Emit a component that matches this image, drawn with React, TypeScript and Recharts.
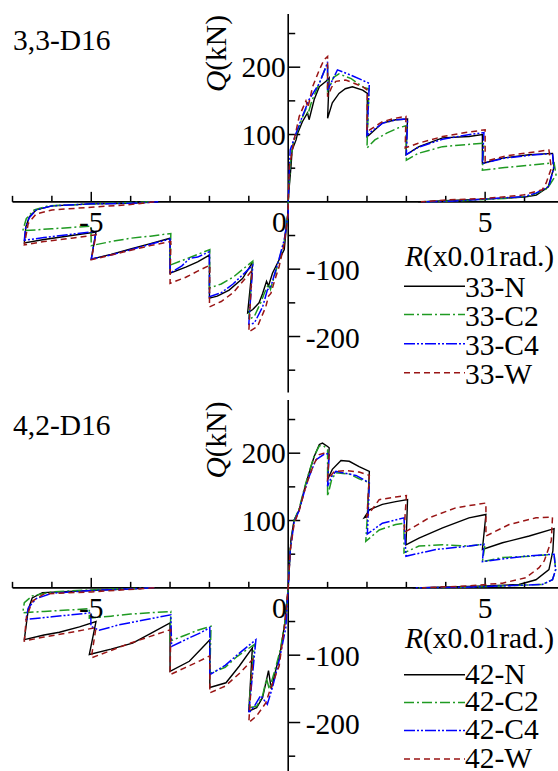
import React from 'react';
import { LineChart, Line, XAxis, YAxis, ReferenceLine, ReferenceDot, Legend, Customized } from 'recharts';

// ---------- data: [R (x0.01 rad), Q (kN)] ----------
const n33 = [[-3.3,0],[-4.0,-2],[-5.0,-3],[-6.0,-6],[-6.4,-12],[-6.57,-22],[-6.66,-37],[-6.7,-61],[-6.2,-56],[-5.5,-50],[-4.88,-45],[-5.0,-85],[-4.5,-78],[-4.0,-70],[-3.5,-62],[-3.0,-54],[-3.0,-106],[-2.6,-97],[-2.3,-89],[-2.0,-79],[-2.0,-143],[-1.8,-140],[-1.5,-131],[-1.16,-114],[-0.9,-89],[-1.03,-165],[-0.9,-160],[-0.74,-150],[-0.65,-136],[-0.55,-118],[-0.5,-125],[-0.4,-106],[-0.23,-86],[-0.1,-71],[-0.05,-40],[0,-12],[0,0],[0.02,18],[0.07,52],[0.1,77],[0.2,92],[0.24,102],[0.36,119],[0.49,132],[0.53,122],[0.66,152],[0.79,171],[0.96,179],[1.04,184],[1.0,124],[1.12,147],[1.29,161],[1.45,168],[1.63,171],[1.89,166],[2.01,161],[2.0,97],[2.05,99],[2.39,117],[2.73,122],[3.03,123],[2.99,70],[3.32,82],[3.92,95],[4.59,97],[4.93,100],[4.93,57],[5.44,65],[6.12,70],[6.71,72],[6.75,52],[6.6,22],[6.3,10],[6.0,7],[5.0,4],[4.1,2],[3.3,0]];
const c2_33 = [[-3.5,0],[-5.0,-3],[-6.1,-6],[-6.45,-12],[-6.65,-25],[-6.74,-43],[-6.0,-40],[-5.5,-38],[-5.01,-36],[-5.0,-65],[-4.5,-59],[-4.0,-54],[-3.5,-51],[-2.98,-47],[-3.0,-94],[-2.6,-85],[-2.3,-78],[-1.99,-71],[-2.0,-128],[-1.7,-122],[-1.4,-112],[-1.15,-100],[-0.9,-88],[-1.0,-175],[-0.86,-170],[-0.7,-150],[-0.6,-135],[-0.5,-122],[-0.45,-130],[-0.35,-110],[-0.23,-86],[-0.1,-58],[0,-15],[0,0],[0.03,30],[0.06,60],[0.12,85],[0.2,100],[0.36,125],[0.45,138],[0.5,130],[0.6,150],[0.79,176],[0.92,195],[1.0,205],[1.0,165],[1.05,170],[1.15,185],[1.29,190],[1.6,183],[1.91,170],[2.05,168],[2.0,80],[2.2,92],[2.5,102],[2.8,110],[2.99,113],[3.0,62],[3.3,72],[3.92,82],[4.5,85],[4.97,87],[4.93,47],[5.5,51],[6.2,55],[6.75,58],[6.8,40],[6.58,20],[6.16,9],[5.5,5],[4.5,2],[3.5,0]];
const c4_33 = [[-3.3,0],[-4.0,-2],[-5.0,-3],[-6.0,-6],[-6.4,-12],[-6.58,-24],[-6.67,-40],[-6.7,-57],[-6.2,-53],[-5.5,-48],[-4.88,-44],[-5.0,-85],[-4.5,-79],[-4.0,-71],[-3.5,-63],[-3.0,-55],[-3.0,-106],[-2.7,-95],[-2.5,-84],[-2.3,-82],[-2.0,-74],[-2.0,-141],[-1.7,-135],[-1.4,-122],[-1.15,-108],[-0.9,-94],[-1.0,-182],[-0.86,-180],[-0.65,-156],[-0.53,-131],[-0.43,-124],[-0.35,-108],[-0.23,-84],[-0.1,-56],[0,-19],[0,0],[0.02,30],[0.05,77],[0.2,102],[0.36,127],[0.45,140],[0.53,152],[0.79,176],[0.96,201],[1.0,208],[1.0,166],[1.1,178],[1.25,196],[1.6,188],[2.06,176],[2.0,99],[2.1,104],[2.4,117],[2.75,122],[3.03,123],[3.0,70],[3.3,81],[3.92,93],[4.5,99],[4.97,103],[4.93,57],[5.5,65],[6.1,69],[6.71,72],[6.74,50],[6.62,23],[6.29,13],[6.0,8],[5.0,4],[4.1,1],[3.4,0]];
const w33 = [[-3.4,0],[-4.0,-4],[-5.0,-8],[-6.0,-12],[-6.4,-18],[-6.6,-32],[-6.7,-64],[-6.2,-59],[-5.5,-54],[-4.88,-49],[-5.0,-86],[-4.5,-79],[-4.0,-72],[-3.5,-65],[-2.98,-59],[-3.0,-121],[-2.6,-112],[-2.3,-103],[-1.99,-94],[-2.0,-156],[-1.7,-148],[-1.4,-135],[-1.15,-118],[-0.92,-102],[-1.0,-193],[-0.78,-185],[-0.57,-156],[-0.5,-140],[-0.44,-136],[-0.35,-118],[-0.23,-96],[-0.1,-62],[0,-15],[0,0],[0.03,52],[0.15,92],[0.28,127],[0.45,150],[0.5,140],[0.62,171],[0.79,196],[0.91,211],[1.0,216],[1.0,156],[1.1,170],[1.21,179],[1.46,181],[1.89,171],[2.01,166],[2.0,104],[2.1,108],[2.39,119],[2.7,124],[2.99,127],[2.97,80],[3.3,87],[3.92,97],[4.5,103],[5.0,107],[5.0,60],[5.5,68],[6.1,73],[6.62,77],[6.68,50],[6.55,28],[6.45,18],[5.95,10],[5.0,5],[4.08,3],[3.37,0]];

const n42 = [[-3.4,0],[-5.0,-4],[-6.24,-7],[-6.5,-15],[-6.6,-32],[-6.7,-77],[-6.2,-70],[-5.81,-66],[-5.3,-58],[-4.88,-50],[-5.05,-99],[-4.5,-91],[-3.95,-82],[-3.5,-68],[-3.0,-52],[-3.0,-124],[-2.51,-109],[-2.2,-90],[-1.99,-77],[-1.99,-148],[-1.58,-141],[-1.24,-116],[-0.91,-89],[-1.0,-183],[-0.8,-178],[-0.65,-163],[-0.5,-123],[-0.43,-150],[-0.35,-130],[-0.2,-95],[-0.08,-50],[0,0],[0.07,72],[0.15,101],[0.28,116],[0.41,146],[0.53,171],[0.66,195],[0.79,213],[0.87,215],[1.0,210],[1.04,208],[1.0,161],[1.12,176],[1.34,189],[1.55,188],[1.8,180],[2.06,173],[2.01,106],[1.93,104],[2.06,116],[2.39,124],[2.73,128],[3.03,131],[2.99,64],[3.32,74],[3.92,89],[4.59,104],[5.02,109],[4.93,57],[5.44,67],[6.12,77],[6.75,88],[6.72,55],[6.62,27],[6.29,12],[5.86,5],[5.0,3],[3.16,0]];
const c2_42 = [[-3.4,0],[-5.0,-3],[-6.0,-6],[-6.5,-12],[-6.7,-22],[-6.74,-37],[-6.2,-35],[-5.6,-33],[-5.05,-31],[-5.05,-45],[-4.5,-42],[-4.0,-39],[-3.5,-37],[-2.98,-35],[-3.0,-79],[-2.6,-70],[-2.3,-63],[-1.96,-57],[-1.99,-127],[-1.6,-118],[-1.3,-102],[-0.86,-84],[-1.0,-178],[-0.8,-176],[-0.65,-160],[-0.55,-135],[-0.48,-150],[-0.35,-125],[-0.2,-92],[-0.08,-50],[0,0],[0.05,60],[0.15,100],[0.28,118],[0.41,148],[0.53,172],[0.66,196],[0.79,211],[0.9,211],[1.0,205],[1.0,136],[1.1,160],[1.21,171],[1.55,169],[1.8,162],[2.06,156],[1.97,69],[2.31,86],[2.73,94],[2.94,96],[2.94,52],[3.32,62],[3.92,64],[4.59,62],[5.0,65],[4.93,39],[5.44,45],[6.12,47],[6.75,50],[6.79,27],[6.71,12],[6.45,5],[5.5,3],[4.5,1],[3.3,0]];
const c4_42 = [[-3.4,0],[-5.0,-4],[-6.0,-8],[-6.4,-16],[-6.6,-30],[-6.66,-47],[-6.0,-43],[-5.5,-40],[-5.01,-37],[-5.01,-57],[-4.8,-63],[-4.3,-55],[-3.6,-47],[-2.98,-40],[-2.96,-87],[-2.5,-74],[-2.2,-66],[-1.99,-59],[-1.99,-129],[-1.6,-115],[-1.2,-95],[-0.82,-77],[-1.0,-186],[-0.85,-175],[-0.7,-160],[-0.53,-173],[-0.4,-148],[-0.23,-108],[-0.06,-59],[0,0],[0.05,55],[0.15,98],[0.28,115],[0.41,143],[0.53,165],[0.7,190],[0.9,198],[1.04,200],[1.0,151],[1.1,165],[1.21,173],[1.72,167],[2.06,156],[2.01,80],[2.39,96],[2.94,104],[2.99,47],[3.75,57],[4.59,62],[4.97,65],[4.93,39],[6.0,47],[6.75,50],[6.79,27],[6.71,12],[6.45,5],[5.5,3],[4.5,1],[3.2,0]];
const w42 = [[-3.4,0],[-5.0,-6],[-6.2,-9],[-6.5,-20],[-6.65,-45],[-6.7,-79],[-6.2,-73],[-5.5,-66],[-4.88,-59],[-5.0,-104],[-4.5,-93],[-4.0,-82],[-3.5,-72],[-2.98,-62],[-3.0,-129],[-2.6,-118],[-2.3,-110],[-1.99,-101],[-1.99,-156],[-1.6,-146],[-1.2,-125],[-0.9,-106],[-1.0,-200],[-0.8,-190],[-0.57,-171],[-0.45,-150],[-0.23,-116],[-0.1,-60],[0,0],[0.05,55],[0.15,95],[0.28,115],[0.41,143],[0.53,165],[0.66,185],[0.79,198],[0.9,200],[1.04,198],[1.0,161],[1.17,173],[1.5,174],[1.8,172],[2.06,167],[2.0,106],[2.31,131],[2.73,135],[3.0,137],[2.94,82],[3.58,104],[4.26,119],[5.02,126],[5.02,77],[5.61,94],[6.29,104],[6.71,105],[6.68,70],[6.5,40],[6.37,30],[6.03,15],[5.44,7],[4.59,3],[3.4,0]];

const seriesNames33 = ['33-N', '33-C2', '33-C4', '33-W'];
const seriesNames42 = ['42-N', '42-C2', '42-C4', '42-W'];

const xMajorTicks = [-5, 5];
const xMinorTicks = [-7, -6, -4, -3, -2, -1, 1, 2, 3, 4, 6];
const yMajorTicks = [-200, -100, 100, 200];
const yMinorTicks = [-250, -150, -50, 50, 150, 250];
const xTickLabels = ['-5', '0', '5'];
const xTickValues = [-5, 0, 5];
const yPosTicks = [100, 200];
const yNegTicks = [-100, -200];

// ---------- styles ----------
const X_DOMAIN: [number, number] = [-7, 6.85];
const FONT = "Liberation Serif, Tinos, Times New Roman, DejaVu Serif, serif";
const FS = 29.5;
const STYLES = [
  { color: '#000000', dash: undefined as string | undefined, width: 1.4 },
  { color: '#1f9a22', dash: '10 3 2 3', width: 1.5 },
  { color: '#0000ff', dash: '11 2 2 2 2 2', width: 1.5 },
  { color: '#991515', dash: '6 4', width: 1.5 },
];

const toPts = (a: number[][]) => a.map(([x, y]) => ({ x, y }));

type PanelProps = {
  top: number;
  height: number;
  marginBottom: number;
  yDomain: [number, number];
  title: string;
  titleY: number;
  qY: number;
  names: string[];
  datasets: number[][][];
  rBaseline: number;
  rowLines: number[];
  rowTextDy: number;
};

const txtStyle: React.CSSProperties = { fontFamily: FONT, fontSize: FS, fill: '#000' };

function Panel(p: PanelProps) {
  const left = 12.5;
  const plotW = 558 - left;
  const plotH = p.height - 14 - p.marginBottom;
  const pxX = plotW / (X_DOMAIN[1] - X_DOMAIN[0]);
  const pxY = plotH / (p.yDomain[1] - p.yDomain[0]);

  const legendTop = p.rBaseline - 30;
  const renderLegend = () => (
    <svg width={158} height={150} style={{ overflow: 'visible', display: 'block' }}>
      <text x={5} y={p.rBaseline - legendTop} style={txtStyle}>
        <tspan style={{ fontStyle: 'italic' }}>R</tspan>(x0.01rad.)
      </text>
      {p.names.map((n, i) => {
        const ly = p.rowLines[i] - legendTop;
        const s = STYLES[i];
        return (
          <g key={n}>
            <line x1={4} x2={65} y1={ly} y2={ly} stroke={s.color} strokeWidth={s.width} strokeDasharray={s.dash} />
            <text x={65} y={ly + p.rowTextDy} style={txtStyle}>{n}</text>
          </g>
        );
      })}
    </svg>
  );

  const Labels = () => (
    <g>
      <text x={13} y={p.titleY} style={txtStyle}>{p.title}</text>
      <text x={226} y={p.qY} textAnchor="middle" transform={`rotate(-90 226 ${p.qY})`} style={txtStyle}>
        <tspan style={{ fontStyle: 'italic' }}>Q</tspan>(kN)
      </text>
    </g>
  );

  return (
    <div style={{ position: 'absolute', left: 0, top: p.top }}>
      <LineChart width={558} height={p.height} margin={{ top: 14, right: 0, left, bottom: p.marginBottom }}>
        <XAxis type="number" dataKey="x" domain={X_DOMAIN} hide allowDataOverflow />
        <YAxis type="number" dataKey="y" domain={p.yDomain} hide allowDataOverflow />
        <ReferenceLine y={0} stroke="#000" strokeWidth={1.6} />
        <ReferenceLine x={0} stroke="#000" strokeWidth={1.6} />
        {xMajorTicks.map((t) => (
          <ReferenceLine key={'xM' + t} segment={[{ x: t, y: 0 }, { x: t, y: 10 / pxY }]} stroke="#000" strokeWidth={1.5} />
        ))}
        {xMinorTicks.map((t) => (
          <ReferenceLine key={'xm' + t} segment={[{ x: t, y: 0 }, { x: t, y: 6 / pxY }]} stroke="#000" strokeWidth={1.5} />
        ))}
        {yMajorTicks.map((t) => (
          <ReferenceLine key={'yM' + t} segment={[{ x: 0, y: t }, { x: 12 / pxX, y: t }]} stroke="#000" strokeWidth={1.5} />
        ))}
        {yMinorTicks.map((t) => (
          <ReferenceLine key={'ym' + t} segment={[{ x: 0, y: t }, { x: 7 / pxX, y: t }]} stroke="#000" strokeWidth={1.5} />
        ))}
        {xTickValues.map((t, i) => (
          <ReferenceDot
            key={'xl' + t}
            x={t}
            y={0}
            r={0}
            shape={(s: any) => (
              <text x={t === 0 ? s.cx - 1.5 : s.cx} y={s.cy + 30} textAnchor={t === 0 ? 'end' : 'middle'} style={txtStyle}>
                {xTickLabels[i]}
              </text>
            )}
          />
        ))}
        {yPosTicks.map((t) => (
          <ReferenceDot
            key={'yp' + t}
            x={0}
            y={t}
            r={0}
            shape={(s: any) => (
              <text x={s.cx - 2.5} y={s.cy + 10} textAnchor="end" style={txtStyle}>{String(t)}</text>
            )}
          />
        ))}
        {yNegTicks.map((t) => (
          <ReferenceDot
            key={'yn' + t}
            x={0}
            y={t}
            r={0}
            shape={(s: any) => (
              <text x={s.cx + 17.5} y={s.cy + 11} textAnchor="start" style={txtStyle}>{String(t)}</text>
            )}
          />
        ))}
        {p.datasets.map((d, i) => (
          <Line
            key={p.names[i]}
            name={p.names[i]}
            data={toPts(d)}
            dataKey="y"
            type="linear"
            stroke={STYLES[i].color}
            strokeWidth={STYLES[i].width}
            strokeDasharray={STYLES[i].dash}
            dot={false}
            activeDot={false}
            isAnimationActive={false}
          />
        ))}
        <Legend
          layout="horizontal"
          verticalAlign="middle"
          align="center"
          content={renderLegend}
          wrapperStyle={{ position: 'absolute', left: 400, top: legendTop, width: 158, height: 150 }}
        />
        <Customized component={Labels} />
      </LineChart>
    </div>
  );
}

export default function App() {
  return (
    <div style={{ position: 'absolute', left: 0, top: 0, width: 558, height: 771, overflow: 'hidden', background: '#fff', fontFamily: FONT }}>
      <Panel
        top={0}
        height={400}
        marginBottom={7.6}
        yDomain={[-283, 279]}
        title="3,3-D16"
        titleY={50}
        qY={53.5}
        names={seriesNames33}
        datasets={[n33, c2_33, c4_33, w33]}
        rBaseline={265.5}
        rowLines={[285.7, 314, 343.3, 372.3]}
        rowTextDy={11}
      />
      <Panel
        top={386}
        height={385}
        marginBottom={0}
        yDomain={[-272, 279]}
        title="4,2-D16"
        titleY={49}
        qY={54}
        names={seriesNames42}
        datasets={[n42, c2_42, c4_42, w42]}
        rBaseline={262.3}
        rowLines={[289, 316.7, 344.7, 373.3]}
        rowTextDy={9}
      />
    </div>
  );
}
